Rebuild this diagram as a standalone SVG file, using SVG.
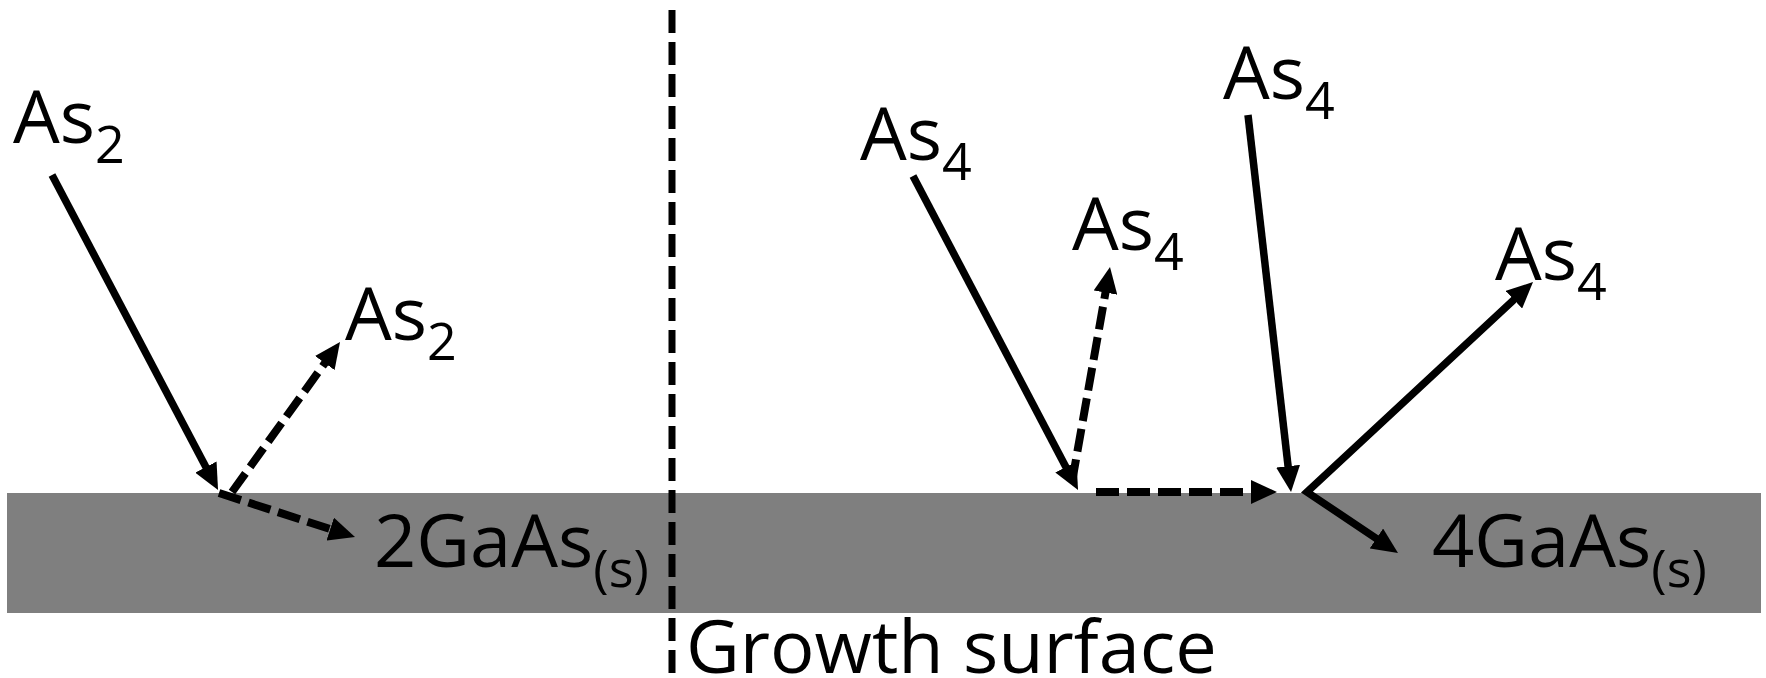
<svg xmlns="http://www.w3.org/2000/svg" width="1766" height="678" viewBox="0 0 1766 678">
<style>
.lbl{font-family:"Open Sans","Noto Sans",sans-serif;font-size:74px;fill:#000}
.sub{font-size:52px}
.solid{stroke:#000;stroke-width:7.5;fill:none}
.dash{stroke:#000;stroke-width:8;fill:none;stroke-dasharray:23 8}
.ah{marker-end:url(#arrow)}
</style>
<defs>
<marker id="arrow" markerUnits="userSpaceOnUse" markerWidth="27" markerHeight="24" refX="1" refY="12" orient="auto">
<path d="M0,0 L26,12 L0,24 z" fill="#000"/>
</marker>
<marker id="arrowStart" markerUnits="userSpaceOnUse" markerWidth="27" markerHeight="24" refX="1" refY="12" orient="auto-start-reverse">
<path d="M0,0 L26,12 L0,24 z" fill="#000"/>
</marker>
</defs>
<rect id="surface" x="7" y="493" width="1754" height="120" fill="#7f7f7f"/>
<line id="separator" x1="672" y1="10" x2="672" y2="674" stroke="#000" stroke-width="7" stroke-dasharray="23 9"/>
<g id="connectors">
<line class="solid ah" x1="52" y1="175" x2="206.4" y2="467.9"/>
<line class="dash ah" x1="232" y1="492" x2="325.4" y2="362.3"/>
<line class="dash ah" x1="219" y1="493" x2="331.2" y2="529.4"/>
<line class="solid ah" x1="913" y1="176" x2="1066.4" y2="467.9"/>
<line class="dash ah" x1="1072" y1="482" x2="1105.65" y2="291.6"/>
<line class="dash ah" x1="1096" y1="492" x2="1252" y2="492"/>
<line class="solid ah" x1="1248" y1="115" x2="1288.2" y2="467.2"/>
<path class="solid" d="M1514.7,299.05 L1307,492 L1377.25,539.1" marker-start="url(#arrowStart)" marker-end="url(#arrow)"/>
</g>
<g id="as2-incoming"><text class="lbl" x="13" y="143">As<tspan class="sub" dy="20">2</tspan></text></g>
<g id="as2-desorbed"><text class="lbl" x="345" y="340">As<tspan class="sub" dy="20">2</tspan></text></g>
<g id="gaas-left"><text class="lbl" x="374" y="567">2GaAs<tspan class="sub" dy="20">(s)</tspan></text></g>
<g id="as4-incoming-1"><text class="lbl" x="860" y="160">As<tspan class="sub" dy="20">4</tspan></text></g>
<g id="as4-desorbed-1"><text class="lbl" x="1072" y="250">As<tspan class="sub" dy="20">4</tspan></text></g>
<g id="as4-incoming-2"><text class="lbl" x="1223" y="99">As<tspan class="sub" dy="20">4</tspan></text></g>
<g id="as4-desorbed-2"><text class="lbl" x="1495" y="280">As<tspan class="sub" dy="20">4</tspan></text></g>
<g id="gaas-right"><text class="lbl" x="1432" y="567">4GaAs<tspan class="sub" dy="20">(s)</tspan></text></g>
<g id="growth-surface"><text class="lbl" x="686" y="673">Growth surface</text></g>
</svg>
